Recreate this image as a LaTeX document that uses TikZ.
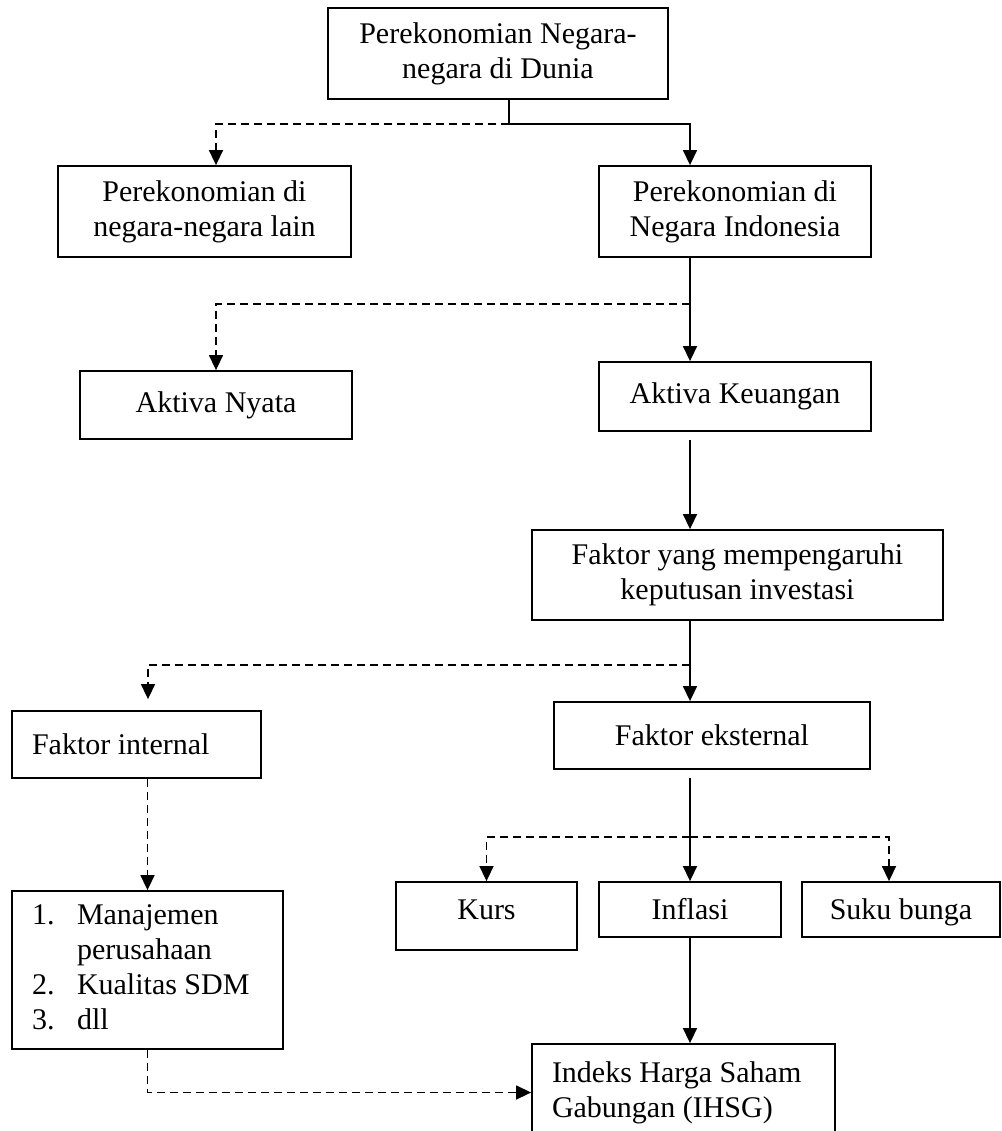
\documentclass[tikz,border=0pt]{standalone}
\usepackage{fontspec}
\setmainfont{Liberation Serif}
\usetikzlibrary{arrows.meta}

\begin{document}
\begin{tikzpicture}[x=1pt,y=-1pt,
    every node/.style={font=\fontsize{30}{35}\selectfont},
    box/.style={draw,line width=1.8pt,align=center,inner sep=0pt},
    arr/.style={line width=1.5pt,-{Triangle[width=14pt,length=15pt]}},
    darr/.style={arr,dash pattern=on 8pt off 5pt}]
      \useasboundingbox (0,0) rectangle (1001,1131);

      \node[box,minimum width=340pt,minimum height=91pt] (dunia) at (498,53.5)
        {Perekonomian Negara-\\negara di Dunia};
      \node[box,minimum width=293pt,minimum height=91pt] (lain) at (204.5,211.5)
        {Perekonomian di\\negara-negara lain};
      \node[box,minimum width=272pt,minimum height=91pt] (indo) at (735,211.5)
        {Perekonomian di\\Negara Indonesia};
      \node[box,minimum width=272pt,minimum height=68pt] (nyata) at (216,405)
        {Aktiva Nyata};
      \node[box,minimum width=272pt,minimum height=69pt] (keuangan) at (735,396.5)
        {Aktiva Keuangan};
      \node[box,minimum width=411pt,minimum height=90pt] (faktor) at (737.5,575)
        {Faktor yang mempengaruhi\\keputusan investasi};
      \node[box,minimum width=249pt,minimum height=67pt,text width=209pt,align=flush left] (internal) at (136.5,744.5)
        {Faktor internal};
      \node[box,minimum width=316pt,minimum height=67pt] (eksternal) at (712,735.5)
        {Faktor eksternal};
      \node[box,minimum width=271pt,minimum height=158pt,text width=231pt,align=flush left] (list) at (147.5,970)
        {\begin{tabular}{@{}p{45pt}@{}l@{}}
          1. & Manajemen\\
             & perusahaan\\
          2. & Kualitas SDM\\
          3. & dll
        \end{tabular}};
      \node[box,minimum width=181pt,minimum height=68pt,text depth=12pt] (kurs) at (486.5,916)
        {Kurs};
      \node[box,minimum width=182pt,minimum height=55pt] (inflasi) at (690,909.5)
        {Inflasi};
      \node[box,minimum width=198pt,minimum height=55pt,text depth=0pt] (suku) at (901,909.5)
        {Suku bunga};
      \node[box,minimum width=303pt,minimum height=97pt,text width=263pt,align=flush left] (ihsg) at (683.5,1092.5)
        {Indeks Harga Saham\\Gabungan (IHSG)};

      \coordinate (stub) at (509,124);
      \coordinate (spine) at (690,0);
      \coordinate (b1) at (690,304);
      \coordinate (b2) at (690,665);
      \coordinate (b3) at (690,837);

      \draw[arr] (dunia.south -| stub) -- (stub) -| (indo.north -| spine);
      \draw[darr] (stub) -| ([xshift=11.5pt]lain.north);
      \draw[arr] (indo.south -| spine) -- (keuangan.north -| spine);
      \draw[darr] (b1) -| (nyata.north);
      \draw[arr,shorten <=8pt] (keuangan.south -| spine) -- (faktor.north -| spine);
      \draw[arr] (faktor.south -| spine) -- (eksternal.north -| spine);
      \draw[darr,shorten >=11pt] (b2) -| ([xshift=11.5pt]internal.north);
      \draw[darr] (internal.south -| list.north) -- (list.north);
      \draw[arr,shorten <=8pt] (eksternal.south -| spine) -- (inflasi.north);
      \draw[darr] (b3) -| (kurs.north);
      \draw[darr] (b3) -| ([xshift=-12pt]suku.north);
      \draw[arr] (inflasi.south) -- (inflasi.south |- ihsg.north);
      \draw[darr] (list.south) |- (ihsg.west);
\end{tikzpicture}
\end{document}
